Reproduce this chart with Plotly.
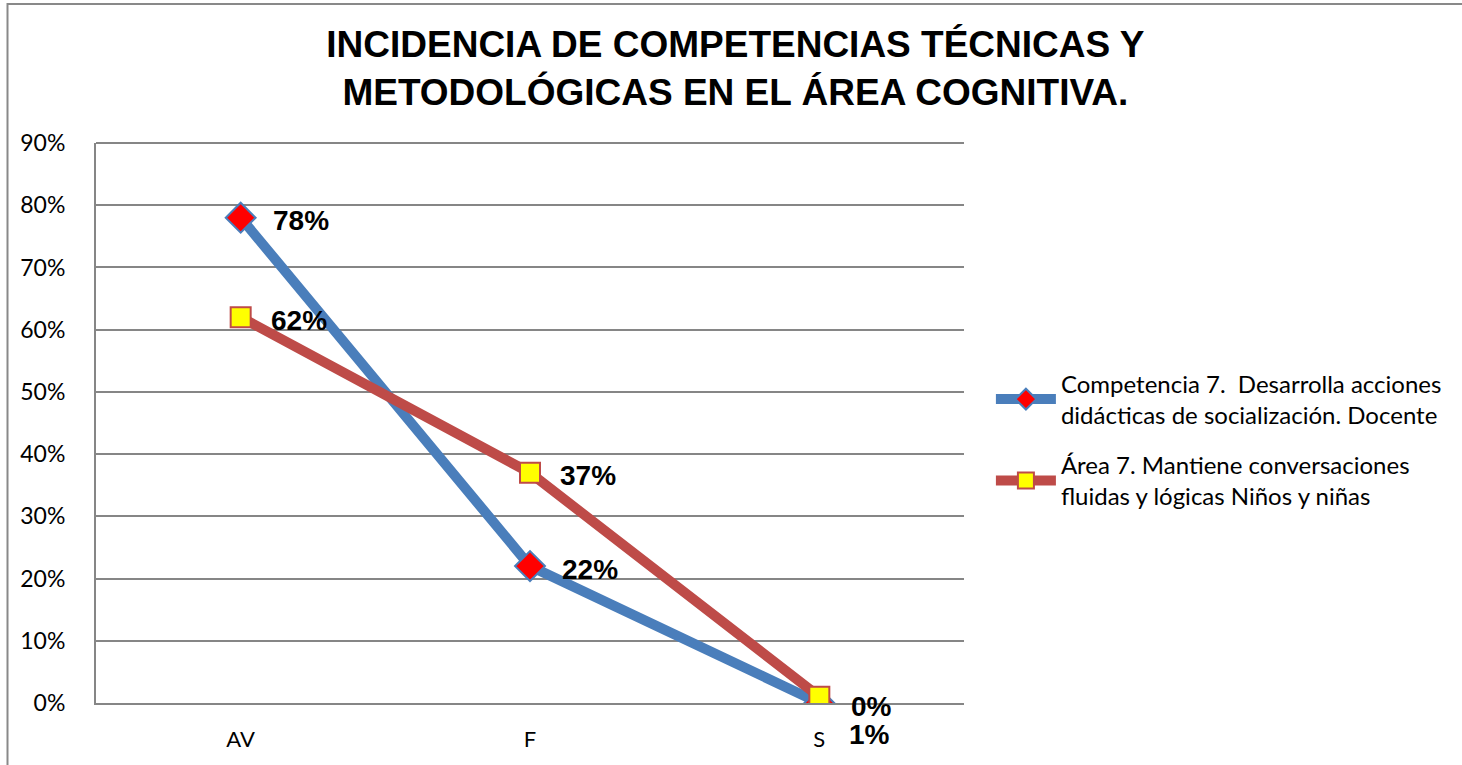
import plotly.graph_objects as go

categories = ["AV", "F", "S"]
competencia = [0.78, 0.22, 0.0]
area = [0.62, 0.37, 0.01]
comp_labels = ["78%", "22%", "0%"]
area_labels = ["62%", "37%", "1%"]
y_ticks = [0, 0.1, 0.2, 0.3, 0.4, 0.5, 0.6, 0.7, 0.8, 0.9]
y_tick_text = ["0%", "10%", "20%", "30%", "40%", "50%", "60%", "70%", "80%", "90%"]

name_comp = "Competencia 7.  Desarrolla acciones<br>didácticas de socialización. Docente"
name_area = "Área 7. Mantiene conversaciones<br>fluidas y lógicas Niños y niñas"

fig = go.Figure()
fig.add_trace(go.Scatter(
    x=categories, y=competencia, name=name_comp, mode="lines+markers",
    legendgroup="a",
    line=dict(color="#4A7EBB", width=10),
    marker=dict(symbol="diamond", size=23, color="#FF0000",
                line=dict(color="#4A7EBB", width=2)),
))
fig.add_trace(go.Scatter(
    x=categories, y=area, name=name_area, mode="lines+markers",
    legendgroup="b",
    line=dict(color="#BE4B48", width=10),
    marker=dict(symbol="square", size=20, color="#FFFF00",
                line=dict(color="#BE4B48", width=2)),
))

label_font = dict(family="Liberation Sans, Arial, sans-serif", size=28, color="black")
for i, (c, v, t) in enumerate(zip(categories, competencia, comp_labels)):
    fig.add_annotation(x=c, y=v, text="<b>%s</b>" % t, showarrow=False,
                       xanchor="left", yanchor="middle", xshift=30, yshift=-3,
                       font=label_font)
for i, (c, v, t) in enumerate(zip(categories, area, area_labels)):
    ys = -3 if i < 2 else -38
    fig.add_annotation(x=c, y=v, text="<b>%s</b>" % t, showarrow=False,
                       xanchor="left", yanchor="middle", xshift=28, yshift=ys,
                       font=label_font)

# outer chart border
plot_h = 765 - 143 - 62
fig.add_shape(type="rect", xref="paper", yref="paper",
              x0=(7.5 - 96) / 868, x1=1.8, y0=-0.5, y1=(plot_h + 143 - 4) / plot_h,
              line=dict(color="#898989", width=2), fillcolor="rgba(0,0,0,0)",
              layer="below")
fig.add_shape(type="line", xref="paper", yref="paper", x0=0, x1=1, y0=1, y1=1,
              line=dict(color="#868686", width=2), layer="below")

fig.update_layout(
    width=1462, height=765,
    margin=dict(l=96, r=498, t=143, b=62, autoexpand=False),
    paper_bgcolor="white", plot_bgcolor="white",
    title=dict(
        text="<b>INCIDENCIA DE COMPETENCIAS TÉCNICAS Y<br>METODOLÓGICAS EN EL ÁREA COGNITIVA.</b>",
        x=0.503, xref="container", xanchor="center",
        y=0.925, yref="container", yanchor="top",
        font=dict(family="Liberation Sans, Arial, sans-serif", size=37, color="black"),
    ),
    showlegend=True,
    legend=dict(
        x=1.031, y=0.61, xanchor="left", yanchor="top",
        font=dict(family="Lato, Calibri, sans-serif", size=24, color="black"),
        itemwidth=60, tracegroupgap=16, bgcolor="rgba(0,0,0,0)",
    ),
    xaxis=dict(
        type="category", range=[-0.5, 2.5], automargin=False,
        showline=True, linecolor="#868686", linewidth=2,
        showgrid=False, ticks="", ticklabelstandoff=16,
        tickfont=dict(family="Lato, Calibri, sans-serif", size=22, color="black"),
    ),
    yaxis=dict(
        range=[0, 0.9], tickvals=y_ticks, ticktext=y_tick_text, automargin=False,
        showline=True, linecolor="#868686", linewidth=2,
        showgrid=True, gridcolor="#868686", gridwidth=2,
        zeroline=False, ticks="", ticklabelstandoff=24,
        tickfont=dict(family="Lato, Calibri, sans-serif", size=23, color="black"),
    ),
)

fig.write_html("out.html", config={"displayModeBar": False},
               post_script="document.body.style.margin='0px';")
